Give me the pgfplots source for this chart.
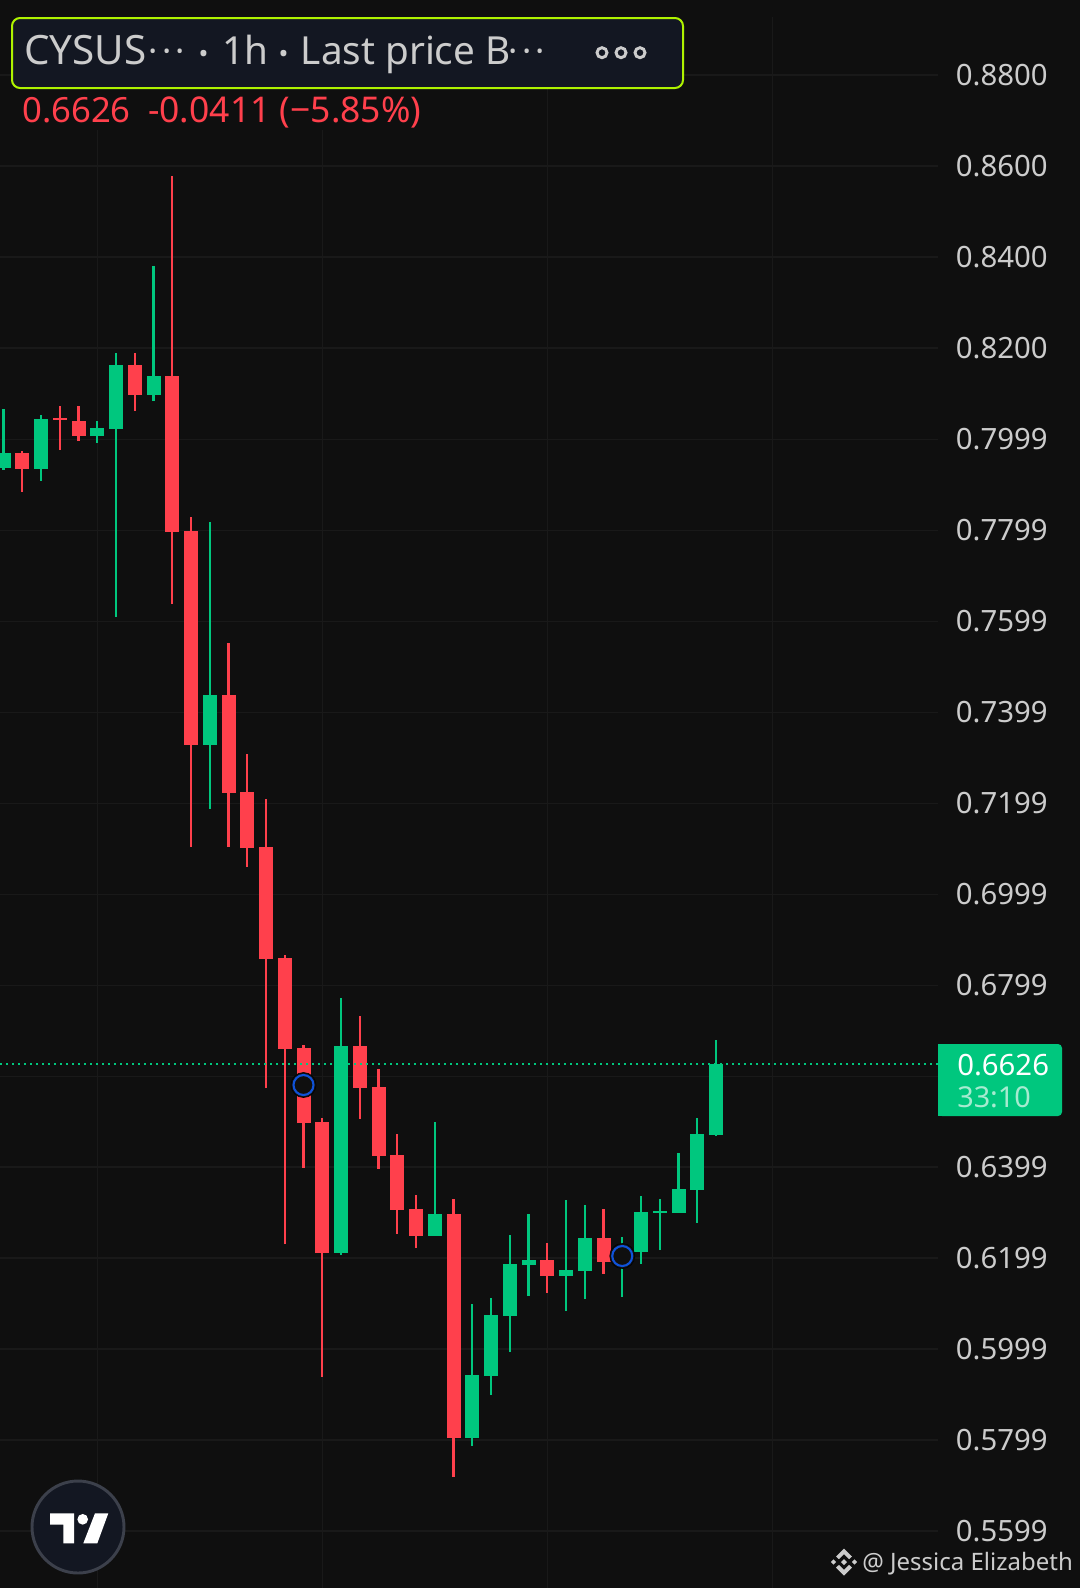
\documentclass[border=0pt]{standalone}
\usepackage{fontspec}
\usepackage{pgfplots}
\pgfplotsset{compat=1.18}
\setmainfont{Noto Sans}
\definecolor{bg}{HTML}{0F0F0F}
\definecolor{gridc}{HTML}{191919}
\definecolor{upc}{HTML}{00C77E}
\definecolor{dnc}{HTML}{FF404C}
\definecolor{txt}{HTML}{CCCCCC}
\definecolor{boxc}{HTML}{131722}
\definecolor{limec}{HTML}{AEF200}
\definecolor{ringc}{HTML}{0F52D8}
\definecolor{mint}{HTML}{A6EBD0}
\definecolor{logoedge}{HTML}{3C404B}
% colour, index, low, body bottom, body top, high
\newcommand{\candle}[6]{%
  \addplot[draw=#1, line width=1.6pt, forget plot] coordinates {(#2,#3) (#2,#6)};
  \addplot[draw=#1, line width=10.5pt, forget plot] coordinates {(#2,#4) (#2,#5)};
}
\begin{document}
\begin{tikzpicture}[x=0.75pt,y=-0.75pt]
\path[use as bounding box, fill=bg] (0,0) rectangle (1080,1588);
\begin{axis}[
  at={(0pt,-12.75pt)}, anchor=north west,
  scale only axis, width=703.5pt, height=1178.25pt,
  xmin=-0.18667, xmax=49.84, ymin=0.54740, ymax=0.89275,
  axis line style={draw=none},
  major tick length=0pt, tick style={draw=none},
  xtick={5,17,29,41}, xticklabels={},
  ytick={0.88,0.86,0.84,0.82,0.7999,0.7799,0.7599,0.7399,0.7199,0.6999,0.6799,0.6599,0.6399,0.6199,0.5999,0.5799,0.5599},
  yticklabels={0.8800,0.8600,0.8400,0.8200,0.7999,0.7799,0.7599,0.7399,0.7199,0.6999,0.6799,,0.6399,0.6199,0.5999,0.5799,0.5599},
  yticklabel pos=right,
  yticklabel style={anchor=west, inner sep=0pt, xshift=13.2pt, font=\fontsize{22pt}{24pt}\selectfont, text=txt},
  grid=major, grid style={draw=gridc, line width=1.1pt},
]
\candle{upc}{0}{0.79324}{0.79368}{0.79691}{0.80658}
\candle{dnc}{1}{0.78840}{0.79345}{0.79691}{0.79735}
\candle{upc}{2}{0.79075}{0.79345}{0.80438}{0.80526}
\candle{dnc}{3}{0.79757}{0.80423}{0.80467}{0.80724}
\candle{dnc}{4}{0.79954}{0.80064}{0.80394}{0.80724}
\candle{upc}{5}{0.79911}{0.80064}{0.80240}{0.80394}
\candle{upc}{6}{0.76085}{0.80218}{0.81625}{0.81889}
\candle{dnc}{7}{0.80614}{0.80966}{0.81625}{0.81889}
\candle{upc}{8}{0.80834}{0.80966}{0.81383}{0.83802}
\candle{dnc}{9}{0.76371}{0.77954}{0.81383}{0.85780}
\candle{dnc}{10}{0.71029}{0.73272}{0.77976}{0.78284}
\candle{upc}{11}{0.71865}{0.73272}{0.74371}{0.78174}
\candle{dnc}{12}{0.71029}{0.72216}{0.74371}{0.75514}
\candle{dnc}{13}{0.70590}{0.71007}{0.72238}{0.73074}
\candle{dnc}{14}{0.65731}{0.68567}{0.71029}{0.72085}
\candle{dnc}{15}{0.62302}{0.66589}{0.68589}{0.68655}
\candle{dnc}{16}{0.63973}{0.64962}{0.66611}{0.66677}
\candle{dnc}{17}{0.59378}{0.62104}{0.64984}{0.65072}
\candle{upc}{18}{0.62060}{0.62104}{0.66655}{0.67710}
\candle{dnc}{19}{0.65050}{0.65731}{0.66655}{0.67314}
\candle{dnc}{20}{0.63951}{0.64237}{0.65753}{0.66149}
\candle{dnc}{21}{0.62522}{0.63050}{0.64259}{0.64720}
\candle{dnc}{22}{0.62214}{0.62478}{0.63072}{0.63379}
\candle{upc}{23}{0.62478}{0.62478}{0.62962}{0.64984}
\candle{dnc}{24}{0.57180}{0.58037}{0.62962}{0.63291}
\candle{upc}{25}{0.57862}{0.58037}{0.59422}{0.60983}
\candle{upc}{26}{0.58983}{0.59400}{0.60741}{0.61115}
\candle{upc}{27}{0.59928}{0.60719}{0.61862}{0.62500}
\candle{upc}{28}{0.61159}{0.61840}{0.61950}{0.62962}
\candle{dnc}{29}{0.61225}{0.61599}{0.61950}{0.62324}
\candle{upc}{30}{0.60829}{0.61599}{0.61731}{0.63269}
\candle{upc}{31}{0.61093}{0.61709}{0.62434}{0.63159}
\candle{dnc}{32}{0.61643}{0.61906}{0.62434}{0.63072}
\candle{upc}{33}{0.61137}{0.61906}{0.62170}{0.62456}
\candle{upc}{34}{0.61862}{0.62126}{0.63006}{0.63357}
\candle{upc}{35}{0.62170}{0.62984}{0.63028}{0.63291}
\candle{upc}{36}{0.62984}{0.62984}{0.63511}{0.64303}
\candle{upc}{37}{0.62764}{0.63489}{0.64720}{0.65072}
\candle{upc}{38}{0.64676}{0.64698}{0.66259}{0.66787}
% last price line
\addplot[draw=upc, line width=1.5pt, dash pattern=on 1.5pt off 3pt, forget plot] coordinates {(-0.18667,0.66259) (49.84,0.66259)};
% event circles
\addplot[only marks, mark=*, mark size=9.4pt, mark options={fill=bg, draw=none}, forget plot] coordinates {(16,0.65797) (33,0.62038)};
\addplot[only marks, mark=o, mark size=7.5pt, mark options={draw=ringc, line width=1.6pt}, forget plot] coordinates {(16,0.65797) (33,0.62038)};
\end{axis}
% backing of the change line
\fill[bg] (0,89) rectangle (430,130);
% legend box
\draw[limec, fill=boxc, line width=1.5pt, rounded corners=6pt] (12,18) rectangle (683,88);
\def\big{\fontsize{29pt}{32pt}\selectfont}
\def\sm{\fontsize{26pt}{28pt}\selectfont}
\def\sep{\fontsize{36pt}{38pt}\selectfont}
\node[anchor=base west, inner sep=0pt, text=txt, font=\fontsize{30.3pt}{32pt}\selectfont] at (24,64) {CYSUS};
\foreach \x in {153,167,180,513,527,540}{\node[anchor=base, inner sep=0pt, text=txt, font=\sm] at (\x,63) {·};}
\node[anchor=base, inner sep=0pt, text=txt, font=\sep] at (204,70) {·};
\node[anchor=base west, inner sep=0pt, text=txt, font=\big] at (222,64) {1h};
\node[anchor=base, inner sep=0pt, text=txt, font=\sep] at (284,70) {·};
\node[anchor=base west, inner sep=0pt, text=txt, font=\big] at (300.5,64) {Last price B};
\foreach \x in {602,621,640}{\draw[txt, line width=2.2pt] (\x,52.7) circle (3.75pt);}
% change line
\node[anchor=base west, inner sep=0pt, text=dnc, font=\fontsize{26pt}{28pt}\selectfont] at (22,122) {0.6626};
\node[anchor=base west, inner sep=0pt, text=dnc, font=\fontsize{26.6pt}{28pt}\selectfont] at (148,122) {-0.0411 (−5.85\%)};
% price tag
\fill[upc, rounded corners=3pt] (938,1044) rectangle (1062,1116);
\fill[upc] (938,1044) rectangle (950,1116);
\node[anchor=base west, inner sep=0pt, text=white, font=\fontsize{22pt}{24pt}\selectfont] at (957,1075) {0.6626};
\node[anchor=base west, inner sep=0pt, text=mint, font=\fontsize{21.6pt}{24pt}\selectfont] at (957,1107) {33:10};
% logo
\draw[logoedge, fill=boxc, line width=2.2pt] (78,1527) circle (34.5pt);
\fill[white] (50,1513.3) -- (74,1513.3) -- (74,1543.3) -- (63.3,1543.3) -- (63.3,1524.7) -- (50,1524.7) -- cycle;
\fill[white] (82.7,1519.3) circle (4pt);
\fill[white] (95,1513.3) -- (108.3,1513.3) -- (97.3,1543.3) -- (83.3,1543.3) -- cycle;
% watermark
\begin{scope}[shift={(844,1562)}]
\fill[txt] (0,-13.5) -- (8,-5.5) -- (5,-2.8) -- (0,-7.8) -- (-5,-2.8) -- (-8,-5.5) -- cycle;
\fill[txt] (0,13.5) -- (8,5.5) -- (5,2.8) -- (0,7.8) -- (-5,2.8) -- (-8,5.5) -- cycle;
\fill[txt] (0,-3) -- (3,0) -- (0,3) -- (-3,0) -- cycle;
\fill[txt] (-10.5,-2.7) -- (-7.8,0) -- (-10.5,2.7) -- (-13.2,0) -- cycle;
\fill[txt] (10.5,-2.7) -- (13.2,0) -- (10.5,2.7) -- (7.8,0) -- cycle;
\end{scope}
\node[anchor=base west, inner sep=0pt, text=txt, font=\fontsize{18pt}{20pt}\selectfont] at (862,1570) {@ Jessica Elizabeth};
\end{tikzpicture}
\end{document}
